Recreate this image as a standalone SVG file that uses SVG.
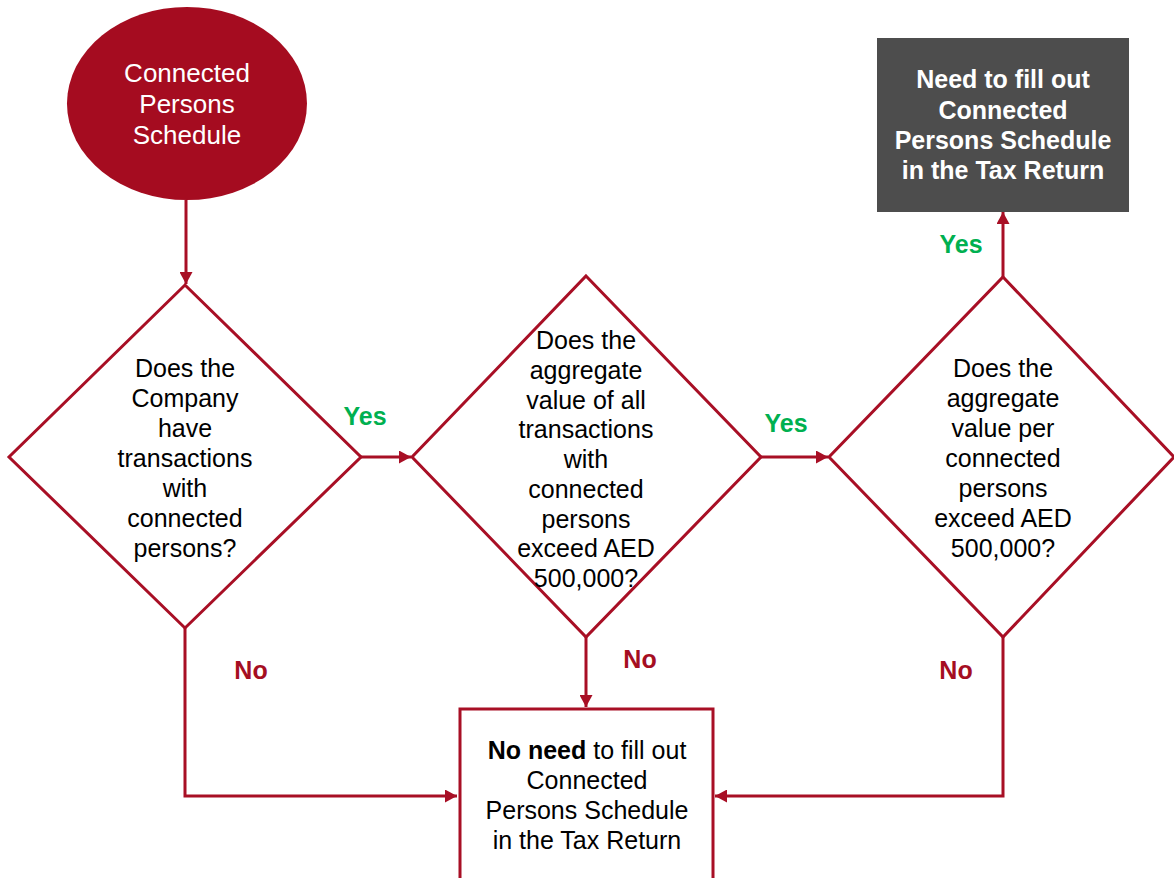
<svg xmlns="http://www.w3.org/2000/svg" width="1174" height="878" viewBox="0 0 1174 878">
<style>
.t{font-family:"Liberation Sans",Arial,sans-serif;font-size:25px;fill:#000;text-anchor:middle}
.w{fill:#fff}
.b{font-weight:bold}
.yes{font-family:"Liberation Sans",Arial,sans-serif;font-size:25px;font-weight:bold;fill:#00b050;text-anchor:middle}
.no{font-family:"Liberation Sans",Arial,sans-serif;font-size:25px;font-weight:bold;fill:#a50e22;text-anchor:middle}
.dia{fill:#fff;stroke:#a80f25;stroke-width:3}
.conn{fill:none;stroke:#a80f25;stroke-width:3}
</style>
<defs>
<marker id="ah" markerUnits="userSpaceOnUse" markerWidth="13" markerHeight="13" refX="12" refY="6.5" orient="auto">
<path d="M0,0 L12,6.5 L0,13 z" fill="#a80f25"/>
</marker>
</defs>
<rect width="1174" height="878" fill="#fff"/>
<g id="connectors">
<path class="conn" d="M186,200 L186,284" marker-end="url(#ah)"/>
<path class="conn" d="M361,457 L411,457" marker-end="url(#ah)"/>
<path class="conn" d="M761,457 L828,457" marker-end="url(#ah)"/>
<path class="conn" d="M1003,277 L1003,212" marker-end="url(#ah)"/>
<path class="conn" d="M185,628 L185,796 L457,796" marker-end="url(#ah)"/>
<path class="conn" d="M586,637 L586,707" marker-end="url(#ah)"/>
<path class="conn" d="M1003,637 L1003,796 L715,796" marker-end="url(#ah)"/>
<text class="yes" x="365" y="425">Yes</text>
<text class="yes" x="786" y="432">Yes</text>
<text class="yes" x="961" y="253">Yes</text>
<text class="no" x="251" y="679">No</text>
<text class="no" x="640" y="668">No</text>
<text class="no" x="956" y="679">No</text>
</g>
<g id="start">
<ellipse cx="187" cy="103.5" rx="120" ry="96.5" fill="#a50c20"/>
<text class="t w" style="font-size:26px" x="187"><tspan x="187" y="82">Connected</tspan><tspan x="187" y="113">Persons</tspan><tspan x="187" y="144">Schedule</tspan></text>
</g>
<g id="d1">
<polygon class="dia" points="185,285 361,457 185,628 9,457"/>
<text class="t" x="185"><tspan x="185" y="377">Does the</tspan><tspan x="185" y="407">Company</tspan><tspan x="185" y="437">have</tspan><tspan x="185" y="467">transactions</tspan><tspan x="185" y="497">with</tspan><tspan x="185" y="527">connected</tspan><tspan x="185" y="557">persons?</tspan></text>
</g>
<g id="d2">
<polygon class="dia" points="586,276 761,457 586,637 412,457"/>
<text class="t" x="586"><tspan x="586" y="349">Does the</tspan><tspan x="586" y="379">aggregate</tspan><tspan x="586" y="409">value of all</tspan><tspan x="586" y="438">transactions</tspan><tspan x="586" y="468">with</tspan><tspan x="586" y="498">connected</tspan><tspan x="586" y="528">persons</tspan><tspan x="586" y="557">exceed AED</tspan><tspan x="586" y="587">500,000?</tspan></text>
</g>
<g id="d3">
<polygon class="dia" points="1003,277 1174,457 1003,637 829,457"/>
<text class="t" x="1003"><tspan x="1003" y="377">Does the</tspan><tspan x="1003" y="407">aggregate</tspan><tspan x="1003" y="437">value per</tspan><tspan x="1003" y="467">connected</tspan><tspan x="1003" y="497">persons</tspan><tspan x="1003" y="527">exceed AED</tspan><tspan x="1003" y="557">500,000?</tspan></text>
</g>
<g id="yesbox">
<rect x="877" y="38" width="252" height="174" fill="#4d4d4d"/>
<text class="t w b" x="1003"><tspan x="1003" y="88">Need to fill out</tspan><tspan x="1003" y="119">Connected</tspan><tspan x="1003" y="149">Persons Schedule</tspan><tspan x="1003" y="179">in the Tax Return</tspan></text>
</g>
<g id="nobox">
<rect x="460" y="709" width="253" height="190" fill="#fff" stroke="#a80f25" stroke-width="3"/>
<text class="t" x="587"><tspan x="587" y="759"><tspan class="b">No need</tspan> to fill out</tspan><tspan x="587" y="789">Connected</tspan><tspan x="587" y="819">Persons Schedule</tspan><tspan x="587" y="849">in the Tax Return</tspan></text>
</g>
</svg>
